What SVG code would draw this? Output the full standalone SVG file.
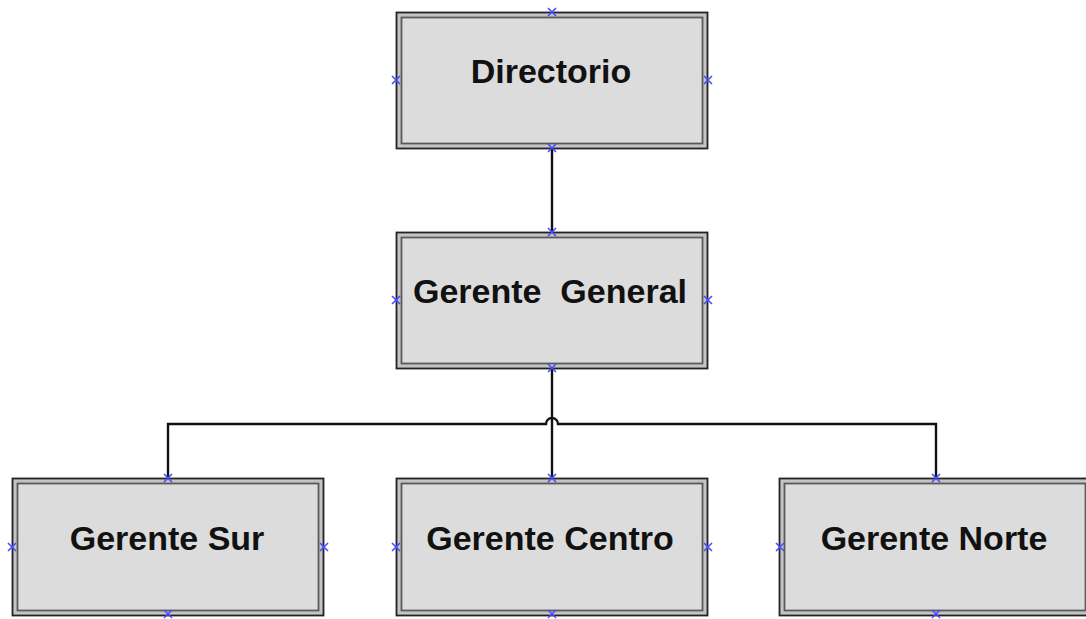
<svg xmlns="http://www.w3.org/2000/svg" width="1086" height="619" viewBox="0 0 1086 619">
<defs>
<style>
.outer{fill:#c4c4c4;stroke:#222;stroke-width:1.8}
.inner{fill:#dcdcdc;stroke:#5a5a5a;stroke-width:1.8}
.lbl{font-family:"Liberation Sans",Arial,sans-serif;font-weight:bold;font-size:34px;fill:#111;text-anchor:middle;white-space:pre}
.conn{fill:none;stroke:#111;stroke-width:2.4}
.mk{fill:none;stroke:#4a4aff;stroke-width:1.6}
</style>
<g id="mark"><path class="mk" d="M-4,-4L4,4M-4,4L4,-4"/></g>
</defs>
<rect width="1086" height="619" fill="#fff"/>
<g id="connectors">
<path class="conn" d="M552,149V232"/>
<path class="conn" d="M552,368V478"/>
<path class="conn" d="M168,478V424H546A6,6 0 0 1 558,424H936V478"/>
</g>
<g id="directorio">
<rect class="outer" x="396.5" y="12.5" width="311" height="136"/>
<rect class="inner" x="401.5" y="17.5" width="301" height="126"/>
<text class="lbl" x="551" y="83">Directorio</text>
</g>
<g id="gerente-general">
<rect class="outer" x="396.5" y="232.5" width="311" height="136"/>
<rect class="inner" x="401.5" y="237.5" width="301" height="126"/>
<text class="lbl" x="550" y="303">Gerente  General</text>
</g>
<g id="gerente-sur">
<rect class="outer" x="12.5" y="478.5" width="311" height="137"/>
<rect class="inner" x="17.5" y="483.5" width="301" height="127"/>
<text class="lbl" x="167" y="550">Gerente Sur</text>
</g>
<g id="gerente-centro">
<rect class="outer" x="396.5" y="478.5" width="311" height="137"/>
<rect class="inner" x="401.5" y="483.5" width="301" height="127"/>
<text class="lbl" x="550" y="550">Gerente Centro</text>
</g>
<g id="gerente-norte">
<rect class="outer" x="779.5" y="478.5" width="311" height="137"/>
<rect class="inner" x="784.5" y="483.5" width="301" height="127"/>
<text class="lbl" x="934" y="550">Gerente Norte</text>
</g>
<g id="markers">
<use href="#mark" x="552" y="12"/><use href="#mark" x="396" y="80"/><use href="#mark" x="708" y="80"/><use href="#mark" x="552" y="148"/>
<use href="#mark" x="552" y="232"/><use href="#mark" x="396" y="300"/><use href="#mark" x="708" y="300"/><use href="#mark" x="552" y="368"/>
<use href="#mark" x="168" y="478"/><use href="#mark" x="12" y="547"/><use href="#mark" x="324" y="547"/><use href="#mark" x="168" y="614"/>
<use href="#mark" x="552" y="478"/><use href="#mark" x="396" y="547"/><use href="#mark" x="708" y="547"/><use href="#mark" x="552" y="614"/>
<use href="#mark" x="936" y="478"/><use href="#mark" x="780" y="547"/><use href="#mark" x="936" y="614"/>
</g>
</svg>
